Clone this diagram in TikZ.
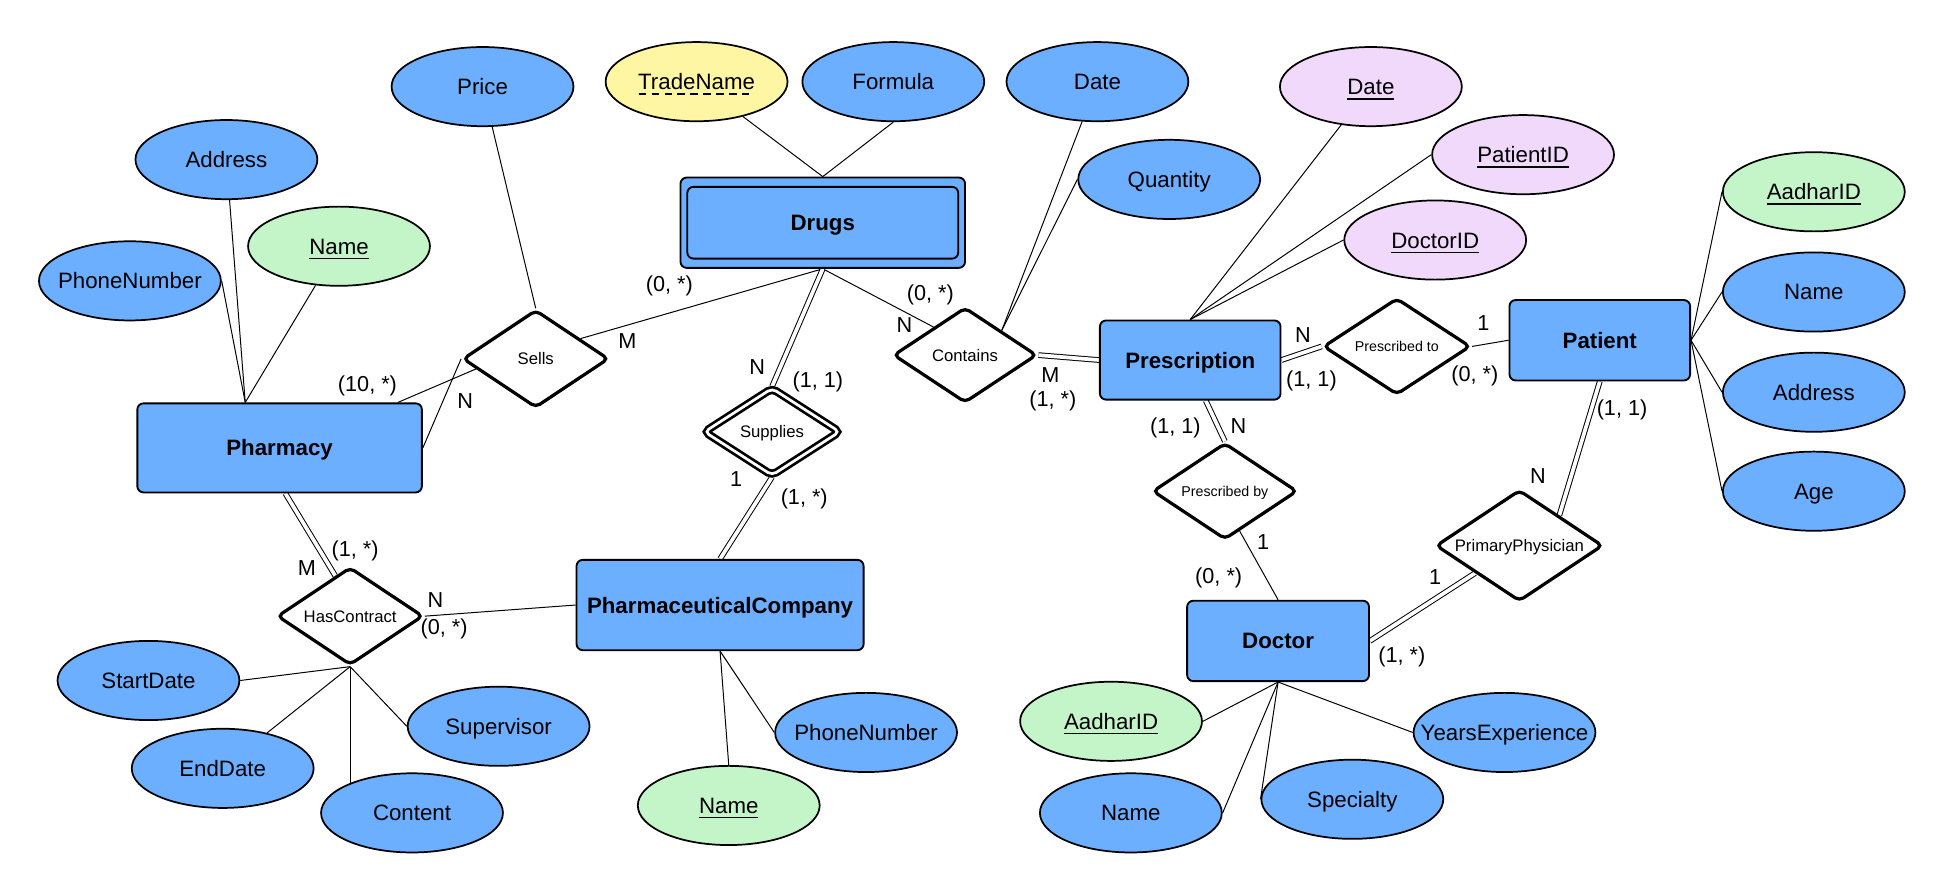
\documentclass[tikz,border=0pt]{standalone}
\usepackage{fontspec}
\setmainfont{Liberation Sans}
\usetikzlibrary{shapes.geometric,calc}
\definecolor{cblue}{RGB}{108,174,255}
\definecolor{cgreen}{RGB}{196,245,200}
\definecolor{cyellow}{RGB}{255,246,163}
\definecolor{cpurple}{RGB}{241,217,252}
\newsavebox{\ulbox}
\newcommand{\ulin}[1]{\sbox{\ulbox}{#1}\rlap{\usebox{\ulbox}}\raisebox{-4pt}[0pt][0pt]{\rule{\wd\ulbox}{1.1pt}}}
\newcommand{\dashulin}[1]{\sbox{\ulbox}{#1}\rlap{\usebox{\ulbox}}\raisebox{-4pt}[0pt][0pt]{\hbox to \wd\ulbox{\xleaders\hbox to 10pt{\rule{6pt}{1.1pt}\hss}\hfill}}}
\newcommand{\zw}[1]{\makebox[0pt]{#1}}
\newcommand{\attrfont}{\fontsize{18}{20}\selectfont}
\newcommand{\entfont}{\fontsize{18}{20}\selectfont\bfseries}
\newcommand{\relfont}{\fontsize{13.5}{16}\selectfont}
\newcommand{\relsmall}{\fontsize{11.5}{14}\selectfont}
\newcommand{\cardfont}{\fontsize{17.5}{20}\selectfont}
\pgfdeclarelayer{bg}
\pgfsetlayers{bg,main}
\tikzset{
  attr/.style={ellipse, draw=black, line width=1.4pt, minimum width=147pt, minimum height=64pt, inner sep=0pt, font=\attrfont, text height=12.9pt, text depth=0pt},
  ab/.style={attr, fill=cblue},
  ag/.style={attr, fill=cgreen},
  ay/.style={attr, fill=cyellow},
  ap/.style={attr, fill=cpurple},
  entity/.style={rectangle, rounded corners=5pt, draw=black, line width=1.5pt, fill=cblue, font=\entfont, inner sep=0pt, text height=12.9pt, text depth=0pt},
  rel/.style={diamond, draw=black, line width=2.6pt, rounded corners=4pt, fill=white, aspect=1.5, inner sep=0pt, font=\relfont, text height=9.7pt, text depth=0pt},
  conn/.style={line width=0.8pt},
  dconn/.style={line width=0.8pt, double=white, double distance=3pt},
  card/.style={font=\cardfont, inner sep=0pt}
}
\begin{document}
\begin{tikzpicture}[x=1pt,y=-1pt]
\useasboundingbox (0,0) rectangle (1568,721);

% ---------- entities ----------
\node[entity, minimum width=230pt, minimum height=73pt] (drugs) at (665,180) {};
\node[entity, minimum width=219pt, minimum height=58pt] (drugsin) at (665,180) {Drugs};
\node[entity, minimum width=230pt, minimum height=72pt] (pharm) at (226,362) {Pharmacy};
\node[entity, minimum width=232pt, minimum height=73pt] (pc) at (582,489) {PharmaceuticalCompany};
\node[entity, minimum width=146pt, minimum height=64pt] (presc) at (962,291) {Prescription};
\node[entity, minimum width=146pt, minimum height=65pt] (patient) at (1293,275) {Patient};
\node[entity, minimum width=147pt, minimum height=65pt] (doctor) at (1033,518) {Doctor};

% ---------- relationships ----------
\node[rel, minimum width=118pt, minimum height=79pt] (sells) at (433,290) {Sells};
\node[rel, minimum width=116pt, minimum height=77pt] (contains) at (780,287) {Contains};
\node[rel, line width=2.2pt, double=white, double distance=2.2pt, minimum width=110pt, minimum height=71pt] (supplies) at (624,349) {Supplies};
\node[rel, font=\relsmall, text height=8.2pt, minimum width=119pt, minimum height=78pt] (pto) at (1129,280) {Prescribed to};
\node[rel, font=\relsmall, text height=8.2pt, minimum width=117pt, minimum height=78pt] (pby) at (990,397) {Prescribed by};
\node[rel, minimum width=135pt, minimum height=90pt] (pp) at (1228,441) {PrimaryPhysician};
\node[rel, minimum width=118pt, minimum height=79pt] (hc) at (283,498) {HasContract};

% ---------- attributes ----------
\node[ab] (price) at (390,70) {\zw{Price}};
\node[ab] (addrP) at (183,129) {\zw{Address}};
\node[ag] (nameP) at (274,199) {\zw{\ulin{Name}}};
\node[ab] (phoneP) at (105,227) {\zw{PhoneNumber}};
\node[ay] (tname) at (563,66) {\zw{\dashulin{TradeName}}};
\node[ab] (formula) at (722,66) {\zw{Formula}};
\node[ab] (dateC) at (887,66) {\zw{Date}};
\node[ab] (qty) at (945,145) {\zw{Quantity}};
\node[ap] (dateR) at (1108,70) {\zw{\ulin{Date}}};
\node[ap] (patid) at (1231,125) {\zw{\ulin{PatientID}}};
\node[ap] (docid) at (1160,194) {\zw{\ulin{DoctorID}}};
\node[ag] (aadP) at (1466,155) {\zw{\ulin{AadharID}}};
\node[ab] (namePt) at (1466,236) {\zw{Name}};
\node[ab] (addrPt) at (1466,317) {\zw{Address}};
\node[ab] (age) at (1466,397) {\zw{Age}};
\node[ab] (sdate) at (120,550) {\zw{StartDate}};
\node[ab] (edate) at (180,621) {\zw{EndDate}};
\node[ab] (content) at (333,657) {\zw{Content}};
\node[ab] (superv) at (403,587) {\zw{Supervisor}};
\node[ab] (phoneC) at (700,592) {\zw{PhoneNumber}};
\node[ag] (nameC) at (589,651) {\zw{\ulin{Name}}};
\node[ag] (aadD) at (898,583) {\zw{\ulin{AadharID}}};
\node[ab] (nameD) at (914,657) {\zw{Name}};
\node[ab] (spec) at (1093,646) {\zw{Specialty}};
\node[ab] (yexp) at (1216,592) {\zw{YearsExperience}};

% ---------- cardinalities ----------
\node[card] (c1) at (297,312) {(10, *)};
\node[card] (c2) at (376,324) {N};
\node[card] (c3) at (541,231) {(0, *)};
\node[card] (c4) at (507,276) {M};
\node[card] (c5) at (752,238) {(0, *)};
\node[card] (c6) at (731,263) {N};
\node[card] (c7) at (612,297) {N};
\node[card] (c8) at (661,309) {(1, 1)};
\node[card] (c9) at (849,303) {M};
\node[card] (c10) at (851,324) {(1, *)};
\node[card] (c11) at (595,387) {1};
\node[card] (c12) at (650,403) {(1, *)};
\node[card] (c13) at (287,445) {(1, *)};
\node[card] (c14) at (248,459) {M};
\node[card] (c15) at (352,485) {N};
\node[card] (c16) at (359,508) {(0, *)};
\node[card] (c17) at (1053,271) {N};
\node[card] (c18) at (1060,308) {(1, 1)};
\node[card] (c19) at (1199,261) {1};
\node[card] (c20) at (1192,304) {(0, *)};
\node[card] (c21) at (1311,331) {(1, 1)};
\node[card] (c22) at (950,346) {(1, 1)};
\node[card] (c23) at (1001,344) {N};
\node[card] (c24) at (1243,385) {N};
\node[card] (c25) at (1021,438) {1};
\node[card] (c26) at (985,467) {(0, *)};
\node[card] (c27) at (1160,466) {1};
\node[card] (c28) at (1133,531) {(1, *)};

% ---------- connectors ----------
\begin{pgfonlayer}{bg}
\fill[white] (0,0) rectangle (1568,721);
\coordinate (pharmtop) at ($(pharm.north west)!0.38!(pharm.north east)$);
\draw[conn] (pharmtop) -- (phoneP.east);
\draw[conn] (pharmtop) -- (addrP);
\draw[conn] (pharmtop) -- (nameP);
\draw[conn] (sells.north) -- (price);
\draw[conn] (pharm.east) -- (sells.west);
\draw[conn] ($(pharm.north west)!0.913!(pharm.north east)$) -- ($(sells.west)!0.2!(sells.south)$);
\draw[conn] ($(sells.north)!0.6!(sells.east)$) -- (drugs.south);
\draw[conn] (drugs.north) -- (tname);
\draw[conn] (drugs.north) -- (formula.south);
\draw[conn] (drugs.south) -- ($(contains.west)!0.57!(contains.north)$);
\draw[dconn] (drugs.south) -- (supplies.north);
\draw[dconn] (supplies.south) -- (pc.north);
\draw[dconn] (contains.east) -- (presc.west);
\coordinate (cpt) at ($(contains.north)!0.5!(contains.east)$);
\draw[conn] (cpt) -- (dateC);
\draw[conn] (cpt) -- (qty.west);
\draw[conn] (presc.north) -- (dateR);
\draw[conn] (presc.north) -- (patid.west);
\draw[conn] (presc.north) -- (docid.west);
\draw[dconn] (presc.east) -- (pto.west);
\draw[conn] (pto.east) -- (patient.west);
\draw[dconn] ($(presc.south)!0.17!(presc.south east)$) -- (pby.north);
\draw[conn] ($(pby.south)!0.2!(pby.east)$) -- (doctor.north);
\draw[conn] (patient.east) -- (aadP.west);
\draw[conn] (patient.east) -- (namePt.west);
\draw[conn] (patient.east) -- (addrPt.west);
\draw[conn] (patient.east) -- (age.west);
\draw[dconn] (patient.south) -- ($(pp.north)!0.47!(pp.east)$);
\draw[dconn] ($(pp.west)!0.48!(pp.south)$) -- (doctor.east);
\draw[conn] (doctor.south) -- (aadD.east);
\draw[conn] (doctor.south) -- (nameD.east);
\draw[conn] (doctor.south) -- (spec.west);
\draw[conn] (doctor.south) -- (yexp.west);
\draw[dconn] ($(pharm.south)!0.04!(pharm.south east)$) -- ($(hc.north)!0.2!(hc.west)$);
\draw[conn] (hc.east) -- (pc.west);
\draw[conn] (hc.south) -- (sdate.east);
\draw[conn] (hc.south) -- (edate);
\draw[conn] (hc.south) -- (hc.south |- content.center);
\draw[conn] (hc.south) -- (superv.west);
\draw[conn] (pc.south) -- (nameC.north);
\draw[conn] (pc.south) -- (phoneC.west);
\end{pgfonlayer}
\end{tikzpicture}
\end{document}
